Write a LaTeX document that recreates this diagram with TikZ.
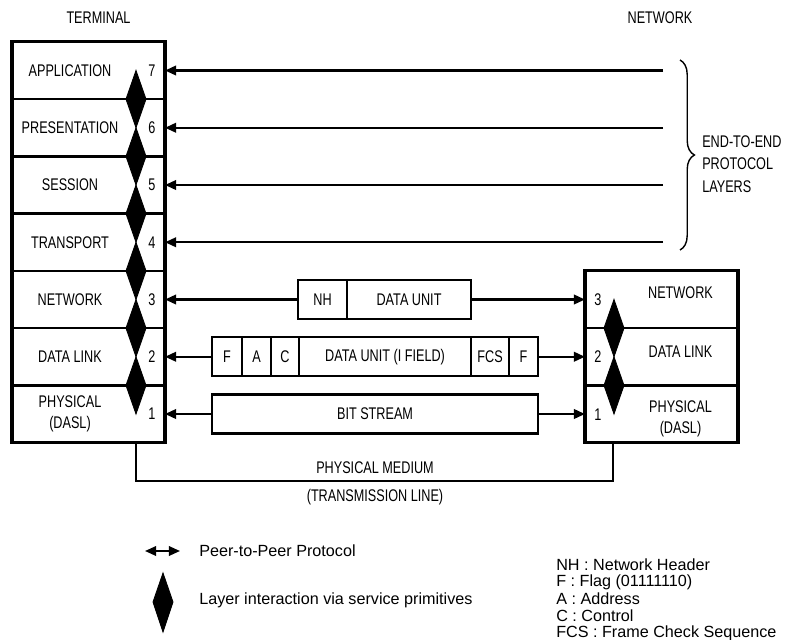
\documentclass[tikz,border=0pt]{standalone}
\usepackage{fontspec}
\setmainfont{Liberation Sans}
\newfontfamily\capsfont{Liberation Sans}[FakeStretch=0.75]
\usetikzlibrary{arrows.meta,positioning,calc,decorations.pathreplacing}

\tikzset{
  layer/.style={draw, line width=1.8pt, minimum width=3.825cm, minimum height=1.431cm, inner sep=0pt, outer sep=0pt},
  cell/.style={draw, line width=1.6pt, minimum height=0.975cm, inner sep=0pt, outer sep=0pt, font=\capsfont\fontsize{12}{13}\selectfont},
  lbl/.style={font=\capsfont\fontsize{12}{14.5}\selectfont, align=center, inner sep=0pt},
  note/.style={font=\fontsize{11.5}{14}\selectfont, anchor=west, inner sep=0pt},
  peer/.style={-{Triangle[length=2.8mm,width=2.4mm]}, line width=1.6pt},
  prim/.style={fill=black, draw=black, line width=0.6pt},
}

\begin{document}
\begin{tikzpicture}[x=0.025cm, y=-0.025cm]
    \useasboundingbox (0,0) rectangle (797,639);

    % Terminal stack
    \node[lbl] (term) at (98.5,18) {TERMINAL};
    \foreach \n/\name in {7/APPLICATION, 6/PRESENTATION, 5/SESSION, 4/TRANSPORT,
                          3/NETWORK, 2/DATA LINK, 1/{PHYSICAL\\(DASL)}} {
        \node[layer] (t\n) at (88.5,{70.5+57.25*(7-\n)}) {};
        \node[lbl] (tl\n) at (70,{70.5+57.25*(7-\n)}) {\name};
        \node[lbl] (tn\n) at (152,{70.5+57.25*(7-\n)}) {\n};
    }
    \draw[line width=2.2pt] (t7.north west) rectangle (t1.south east);
    \foreach \n in {7,...,2}
        \filldraw[prim] (136,{70.5+57.25*(7-\n)}) -- ++(10,28.625) -- ++(-10,28.625) -- ++(-10,-28.625) -- cycle;

    % Network stack
    \node[lbl] (net) at (660,18) {NETWORK};
    \node[layer] (n3) at (661.5,299.5) {};
    \node[layer] (n2) at (661.5,356.75) {};
    \node[layer] (n1) at (661.5,414) {};
    \draw[line width=2.2pt] (n3.north west) rectangle (n1.south east);
    \node[lbl] (nl3) at (680.5,293) {NETWORK};
    \node[lbl] (nl2) at (680.5,352) {DATA LINK};
    \node[lbl] (nl1) at (680.5,419) {PHYSICAL\\(DASL)};
    \node[lbl] (nn3) at (598,300) {3};
    \node[lbl] (nn2) at (598,357) {2};
    \node[lbl] (nn1) at (598,415) {1};
    \foreach \yy in {299.5,356.75}
        \filldraw[prim] (614,\yy) -- ++(10,28.625) -- ++(-10,28.625) -- ++(-10,-28.625) -- cycle;

    % End-to-end layers
    \foreach \n in {7,...,4} {
        \coordinate (e\n) at (663,{70.5+57.25*(7-\n)});
        \draw[peer] (e\n) -- (e\n -| t\n.east);
    }
    \draw[decorate, decoration={brace, amplitude=0.36cm}, line width=1pt] (680,60) -- (680,250);
    \node[lbl, anchor=west, align=left, font=\capsfont\fontsize{12}{16}\selectfont] (e2e) at (702,164)
        {END-TO-END\\PROTOCOL\\LAYERS};

    % Network layer packet
    \node[cell, minimum width=1.225cm, anchor=west] (nh) at (298,299.5) {NH};
    \node[cell, minimum width=3.1cm, right=0pt of nh] (nhdu) {DATA UNIT};
    \draw[peer] (nh.west) -- (nh.west -| t3.east);
    \draw[peer] (nhdu.east) -- (nhdu.east -| n3.west);

    % Data link frame
    \node[cell, minimum width=0.75cm, anchor=west] (ff1) at (212,356.75) {F};
    \node[cell, minimum width=0.725cm, right=0pt of ff1] (fa) {A};
    \node[cell, minimum width=0.7cm, right=0pt of fa] (fc) {C};
    \node[cell, minimum width=4.3cm, right=0pt of fc] (fdu) {DATA UNIT (I FIELD)};
    \node[cell, minimum width=0.95cm, right=0pt of fdu] (fcs) {FCS};
    \node[cell, minimum width=0.725cm, right=0pt of fcs] (ff2) {F};
    \draw[peer] (ff1.west) -- (ff1.west -| t2.east);
    \draw[peer] (ff2.east) -- (ff2.east -| n2.west);

    % Physical bits
    \node[cell, minimum width=8.15cm, anchor=west] (bits) at (212,414) {BIT STREAM};
    \draw[peer] (bits.west) -- (bits.west -| t1.east);
    \draw[peer] (bits.east) -- (bits.east -| n1.west);

    % Physical medium
    \draw[line width=1.6pt] ([xshift=3.1cm]t1.south west) -- ++(0,38) -| ([xshift=0.7cm]n1.south west);
    \node[lbl] (med) at (375,468) {PHYSICAL MEDIUM};
    \node[lbl] (medtx) at (375,497) {(TRANSMISSION LINE)};

    % Legend
    \coordinate (lga) at (145,551);
    \coordinate (lgb) at (180,551);
    \draw[{Triangle[length=2.8mm,width=2.4mm]}-{Triangle[length=2.8mm,width=2.4mm]}, line width=1.4pt] (lga) -- (lgb);
    \node[note] (lgpeer) at (199,551) {Peer-to-Peer Protocol};
    \filldraw[prim] (163,573) -- (173,602) -- (163,632) -- (153,602) -- cycle;
    \node[note] (lgprim) at (199,600) {Layer interaction via service primitives};

    \node[note] (kNH) at (556,565) {NH : Network Header};
    \node[note] (kF) at (556,582) {F : Flag (01111110)};
    \node[note] (kA) at (556,599) {A : Address};
    \node[note] (kC) at (556,616) {C : Control};
    \node[note] (kFCS) at (556,633) {FCS : Frame Check Sequence};
\end{tikzpicture}
\end{document}
